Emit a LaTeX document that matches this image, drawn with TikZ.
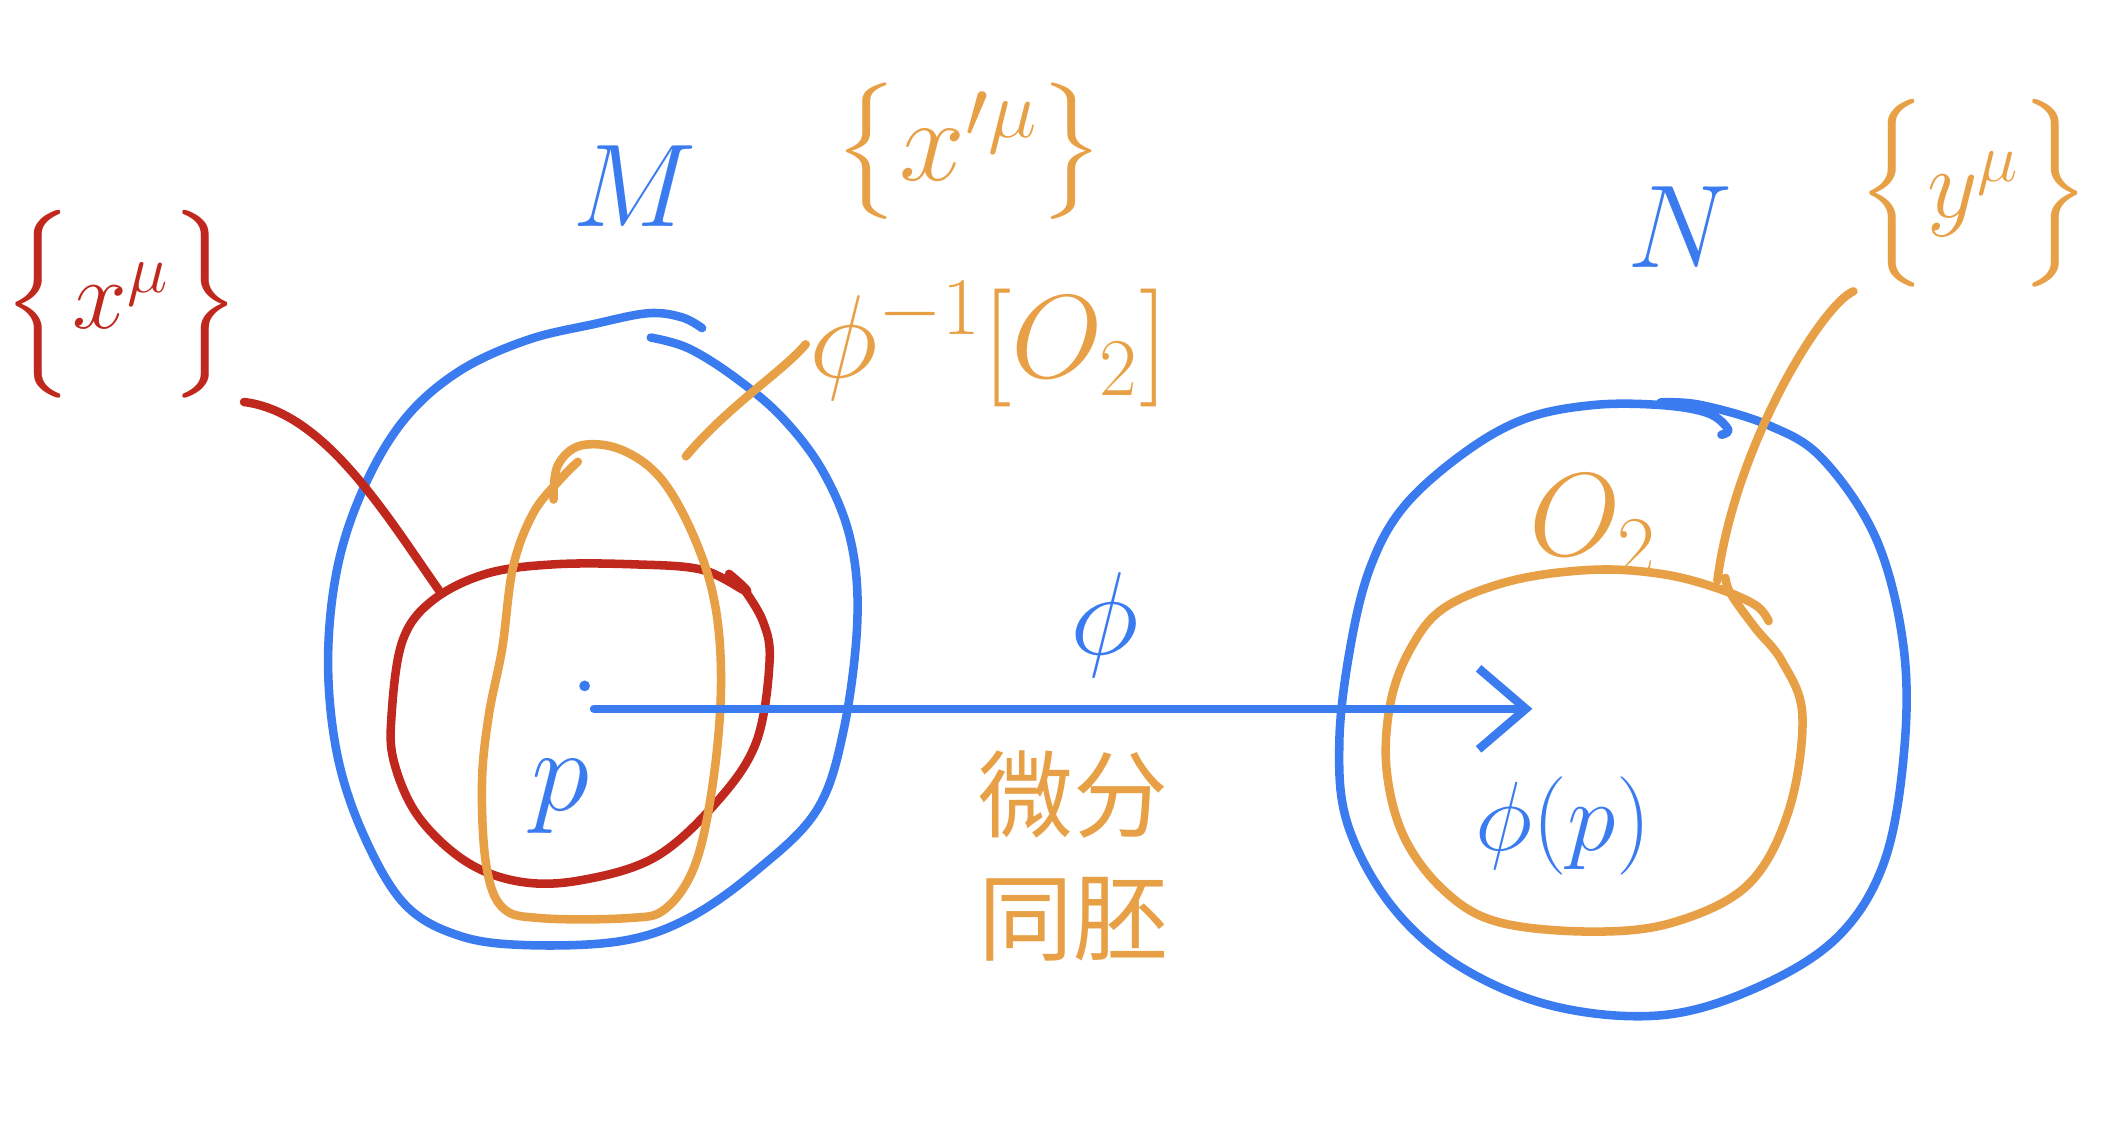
\documentclass[tikz,border=0pt]{standalone}
\usepackage{amsmath,amssymb}
\usepackage{fontspec}
\newfontfamily\cjk{Noto Sans CJK SC}
\usetikzlibrary{arrows.meta}
\definecolor{penblue}{RGB}{58,123,240}
\definecolor{penorange}{RGB}{232,160,70}
\definecolor{penred}{RGB}{192,40,30}
\newcommand{\pt}[1]{\fontsize{#1}{#1}\selectfont}

\begin{document}
\begin{tikzpicture}[x=0.1mm, y=-0.1mm, line width=1.8pt, line cap=round, line join=round, >={Straight Barb[length=3.5mm, width=6mm]}, every node/.style={inner sep=0pt}, blob/.style={smooth, tension=0.6}]
	\useasboundingbox (0,0) rectangle (1568,850);
	% manifold M
	\draw[penblue] plot[blob] coordinates {(520,243) (505,235) (480,232) (440,240) (390,252) (340,275) (300,310) (270,360) (250,420) (243,490) (250,560) (270,620) (300,670) (340,693) (390,700) (460,697) (510,680) (560,645) (605,600) (625,540) (635,460) (630,400) (610,350) (580,310) (545,280) (510,258) (482,250)};
	\draw[penred] plot[blob] coordinates {(540,425) (553,438) (520,422) (470,418) (410,418) (360,425) (320,445) (298,475) (290,530) (292,565) (310,605) (345,638) (385,653) (430,652) (485,635) (530,595) (560,550) (570,490) (565,460) (550,435)};
	\draw[penorange] plot[blob] coordinates {(410,370) (413,345) (430,330) (460,333) (490,355) (515,400) (530,450) (534,510) (528,580) (515,640) (493,673) (465,680) (400,680) (372,672) (360,640) (357,580) (362,530) (372,480) (380,420) (395,380) (415,355) (428,342)};
	% manifold N
	\draw[penblue] plot[blob] coordinates {(1275,322) (1280,318) (1265,306) (1230,300) (1180,300) (1130,310) (1085,335) (1040,375) (1015,420) (1000,480) (992,550) (998,610) (1030,670) (1080,715) (1150,745) (1230,752) (1300,732) (1360,695) (1395,640) (1410,560) (1410,480) (1390,400) (1350,340) (1310,315) (1260,300) (1230,298)};
	\draw[penorange] plot[blob] coordinates {(1310,460) (1300,448) (1270,435) (1230,425) (1180,422) (1120,430) (1070,450) (1045,480) (1030,520) (1027,570) (1040,620) (1070,660) (1110,683) (1180,690) (1240,683) (1295,655) (1325,600) (1335,530) (1320,490) (1300,465) (1282,440) (1278,428)};
	% labels
	\node[penblue, font=\pt{28}] (M) at (470,138) {$M$};
	\node[penblue, font=\pt{34}] (N) at (1244,168) {$N$};
	\node[penred, font=\pt{22}] (xlab) at (90,225) {$\Bigl\{x^\mu\Bigr\}$};
	\node[penorange, font=\pt{24}] (xplab) at (718,112) {$\bigl\{x'^\mu\bigr\}$};
	\node[penorange, font=\pt{24}] (phiinv) at (733,255) {$\phi^{-1}[O_2]$};
	\node[penorange, font=\pt{26}] (O2) at (1180,388) {$O_2$};
	\node[penorange, font=\pt{22}] (ylab) at (1462,143) {$\Bigl\{y^\mu\Bigr\}$};
	\node[penblue, font=\pt{24}] (plab) at (415,590) {$p$};
	\node[penblue, font=\pt{20}] (phiplab) at (1158,612) {$\phi(p)$};
	\node[penblue, font=\pt{28}] (phi) at (818,463) {$\phi$};
	\node[penorange, font=\cjk\pt{20}, align=center] (diffeo) at (795,634) {微分\\[6pt]同胚};
	% leaders
	\coordinate (redend) at (325,437);
	\coordinate (orangeend) at (508,338);
	\coordinate (o2end) at (1272,430);
	\draw[penred] (xlab.south east) .. controls (240,305) and (285,380) .. (redend);
	\draw[penorange] (orangeend) .. controls (540,300) and (580,275) .. (phiinv.west);
	\draw[penorange] (o2end) .. controls (1285,330) and (1350,225) .. (ylab.south west);
	% the map
	\fill[penblue] (433,508) circle (4);
	\coordinate (p) at (440,525);
	\coordinate (phip) at (1135,525);
	\draw[penblue, ->] (p) -- (phip);
\end{tikzpicture}
\end{document}
